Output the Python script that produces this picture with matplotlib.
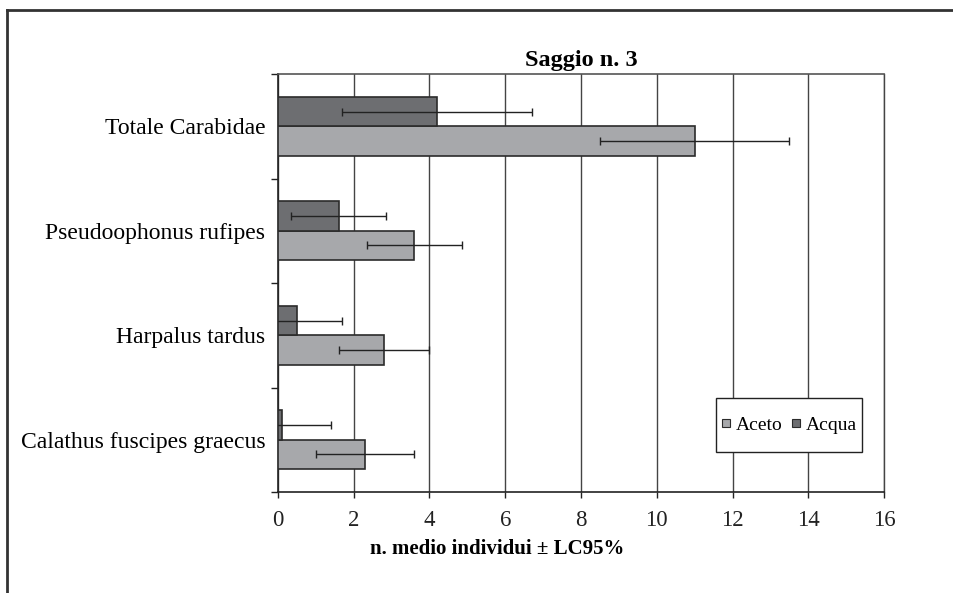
import matplotlib
matplotlib.use("Agg")
import matplotlib.pyplot as plt
from matplotlib.lines import Line2D
from matplotlib.patches import Rectangle
import numpy as np

categories = ["Totale Carabidae", "Pseudoophonus rufipes", "Harpalus tardus", "Calathus fuscipes graecus"]
aceto = [11.0, 3.6, 2.8, 2.3]
aceto_err = [2.5, 1.25, 1.2, 1.3]
acqua = [4.2, 1.6, 0.5, 0.1]
acqua_err = [2.5, 1.25, 1.2, 1.3]
xticks = [0, 2, 4, 6, 8, 10, 12, 14, 16]

plt.rcParams['font.family'] = ['Liberation Serif', 'DejaVu Serif']

fig = plt.figure(figsize=(9.54, 5.93), dpi=100)
ax = fig.add_axes([278/954, 1-492/593, (884-278)/954, (492-74)/593])

n = len(categories)
pos = np.arange(n)[::-1].astype(float)  # top category highest
h = 0.28
c_aceto = "#a7a8ab"
c_acqua = "#6d6e71"
edge = "#2b2b2b"

ax.barh(pos - h/2, aceto, height=h, color=c_aceto, edgecolor=edge, linewidth=1.2, zorder=3)
ax.barh(pos + h/2, acqua, height=h, color=c_acqua, edgecolor=edge, linewidth=1.2, zorder=3)
ax.errorbar(aceto, pos - h/2, xerr=aceto_err, fmt="none", ecolor="#222222", elinewidth=1.0, capsize=3, capthick=1.0, zorder=4)
ax.errorbar(acqua, pos + h/2, xerr=acqua_err, fmt="none", ecolor="#222222", elinewidth=1.0, capsize=3, capthick=1.0, zorder=4)

ax.set_xlim(0, 16)
ax.set_ylim(-0.5, n - 0.5)
ax.set_xticks(xticks)
ax.set_xticklabels([str(t) for t in xticks], fontsize=16.5)
ax.tick_params(axis="x", direction="out", length=4, width=1, pad=9, colors="#222222")
ax.xaxis.grid(True, color="#444444", linewidth=1.0, zorder=0)
ax.set_axisbelow(True)

# y: ticks at boundaries, labels at centers
ax.set_yticks(np.arange(-0.5, n, 1.0))
ax.set_yticklabels([])
ax.tick_params(axis="y", which="major", direction="out", length=5, width=1, colors="#222222")
ax.set_yticks(pos, minor=True)
ax.set_yticklabels(categories, minor=True, fontsize=17)
ax.tick_params(axis="y", which="minor", length=0, pad=9)

for s in ["left", "bottom"]:
    ax.spines[s].set_color("#222222")
    ax.spines[s].set_linewidth(1.2)
ax.spines["top"].set_color("#555555")
ax.spines["top"].set_linewidth(1.2)
ax.spines["right"].set_color("#444444")
ax.spines["right"].set_linewidth(1.0)

ax.set_title("Saggio n. 3", fontsize=17.5, fontweight="bold", pad=6)
ax.set_xlabel("n. medio individui ± LC95%", fontsize=15, fontweight="bold", x=0.361, labelpad=6)

# legend box (drawn as a rectangle) and legend entries without frame
box = Rectangle((0.7228, 0.0957), 0.241, 0.129, transform=ax.transAxes, facecolor="white",
                edgecolor="#222222", linewidth=1.0, zorder=5)
ax.add_patch(box)
handles = [
    Line2D([], [], marker="s", linestyle="none", markersize=6, markerfacecolor=c_aceto, markeredgecolor=edge, markeredgewidth=0.8),
    Line2D([], [], marker="s", linestyle="none", markersize=6, markerfacecolor=c_acqua, markeredgecolor=edge, markeredgewidth=0.8),
]
leg = ax.legend(handles, ["Aceto", "Acqua"], loc="center", bbox_to_anchor=(0.7228 + 0.241/2, 0.0957 + 0.129/2),
                ncol=2, fontsize=14, frameon=False, handlelength=0.5, handleheight=0.7,
                handletextpad=0.25, columnspacing=0.45, borderaxespad=0, borderpad=0)
leg.set_zorder(6)

# outer frame (top and left edges)
fig.add_artist(Line2D([7/954, 1.0], [1-10/593, 1-10/593], transform=fig.transFigure, color="#333333", linewidth=2))
fig.add_artist(Line2D([7/954, 7/954], [0.0, 1-10/593], transform=fig.transFigure, color="#333333", linewidth=2))

fig.savefig("out.png", dpi=100)
